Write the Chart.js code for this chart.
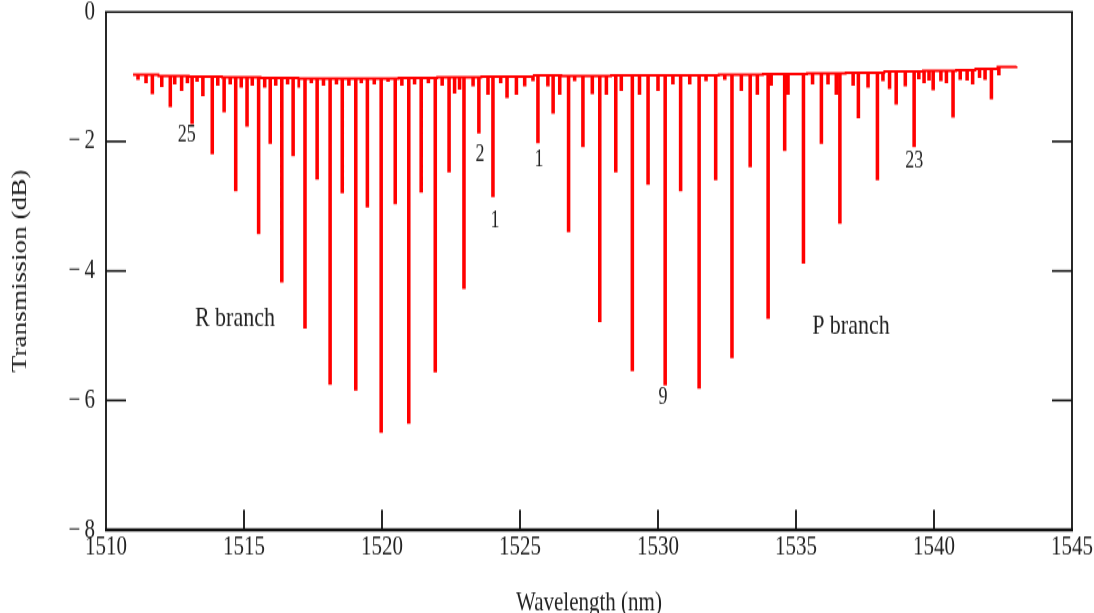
<!DOCTYPE html>
<html>

<head>
  <title>Transmission spectrum</title>
  <script src="https://cdn.jsdelivr.net/npm/chart.js"></script>
  <style>
    html {
      overflow: hidden;
    }
    body {
      margin: 0;
      padding: 0;
      height: 613px;
      background: #fff;
    }
    /* the plot is drawn short and stretched tall, like the printed figure */
    .chart-container {
      position: relative;
      width: 1094px;
      height: 480px;
      transform: scaleY(1.2987);
      transform-origin: 0 0;
    }
  </style>
</head>

<body>
  <div class="chart-container">
    <canvas id="myChart"></canvas>
  </div>
  <script>
    // axis ticks
    const xTicks = [1510, 1515, 1520, 1525, 1530, 1535, 1540, 1545];
    const yTicks = [0, -2, -4, -6, -8];

    // continuum level of the trace (nm, dB)
    const contNm = [1510.98, 1511.9, 1513.0, 1514.2, 1515.6, 1517.0, 1519.0, 1520.6, 1522.0, 1523.6, 1525.2, 1526.5,
      1528.3, 1530.4, 1532.2, 1533.8, 1535.4, 1536.8, 1538.2, 1539.6, 1540.8, 1541.5, 1542.3, 1542.99];
    const contDb = [-0.97, -0.99, -1.0, -1.01, -1.02, -1.03, -1.03, -1.02, -1.01, -1.0, -0.98, -0.99,
      -0.98, -0.98, -0.97, -0.96, -0.95, -0.94, -0.92, -0.91, -0.9, -0.88, -0.85, -0.84];

    // absorption lines: centre (nm) and bottom of the dip (dB)
    const dipNm = [
      1511.16, 1511.45, 1511.68, 1512.02, 1512.33, 1512.49, 1512.74, 1512.95, 1513.12, 1513.30, 1513.51, 1513.85,
      1514.05, 1514.28, 1514.50, 1514.70, 1514.90, 1515.11, 1515.30, 1515.53, 1515.75, 1515.95, 1516.15, 1516.37,
      1516.58, 1516.78, 1517.00, 1517.21, 1517.44, 1517.65, 1517.88, 1518.12, 1518.35, 1518.56, 1518.80, 1519.05,
      1519.25, 1519.47, 1519.72, 1519.97, 1520.22, 1520.48, 1520.72, 1520.97, 1521.18, 1521.42, 1521.68, 1521.93,
      1522.18, 1522.43, 1522.63, 1522.81, 1522.97, 1523.30, 1523.51, 1523.84, 1524.02, 1524.30, 1524.53, 1524.87,
      1525.17, 1525.47, 1525.65, 1526.01, 1526.20, 1526.44, 1526.76, 1526.98, 1527.28, 1527.62, 1527.89, 1528.13,
      1528.47, 1528.67, 1529.07, 1529.33, 1529.64, 1530.00, 1530.26, 1530.54, 1530.82, 1531.15, 1531.49, 1531.74,
      1532.09, 1532.42, 1532.68, 1533.02, 1533.34, 1533.60, 1533.99, 1534.10, 1534.59, 1534.71, 1535.27, 1535.60,
      1535.92, 1536.16, 1536.46, 1536.59, 1537.07, 1537.26, 1537.61, 1537.95, 1538.15, 1538.39, 1538.63, 1538.96,
      1539.28, 1539.45, 1539.64, 1539.82, 1539.97, 1540.25, 1540.45, 1540.69, 1540.95, 1541.20, 1541.40, 1541.65,
      1541.85, 1542.08, 1542.35
    ];
    const dipDb = [
      -1.03, -1.08, -1.25, -1.14, -1.45, -1.10, -1.20, -1.08, -1.71, -1.06, -1.28, -2.18,
      -1.12, -1.53, -1.10, -2.75, -1.15, -1.75, -1.12, -3.41, -1.15, -2.02, -1.12, -4.16,
      -1.10, -2.21, -1.15, -4.87, -1.08, -2.57, -1.12, -5.74, -1.10, -2.78, -1.12, -5.83,
      -1.08, -3.00, -1.10, -6.48, -1.06, -2.95, -1.12, -6.34, -1.10, -2.77, -1.08, -5.55,
      -1.12, -2.46, -1.24, -1.18, -4.26, -1.13, -1.86, -1.26, -2.84, -1.08, -1.31, -1.26,
      -1.13, -1.05, -2.01, -1.13, -1.55, -1.26, -3.38, -1.05, -2.07, -1.25, -4.77, -1.26,
      -2.46, -1.20, -5.53, -1.26, -2.65, -1.20, -5.75, -1.10, -2.75, -1.10, -5.80, -1.05,
      -2.58, -1.03, -5.33, -1.20, -2.38, -1.26, -4.72, -1.12, -2.13, -1.26, -3.87, -1.10,
      -2.02, -1.10, -1.26, -3.25, -1.12, -1.62, -1.15, -2.58, -1.05, -1.17, -1.41, -1.13,
      -2.07, -1.02, -1.08, -1.04, -1.19, -1.05, -1.08, -1.61, -1.03, -1.04, -1.10, -1.00,
      -1.03, -1.33, -0.96
    ];

    // line numbers and branch names written on the plot
    const lineNotes = [
      { text: '25', nm: 1512.93, db: -1.90 },
      { text: '2', nm: 1523.55, db: -2.21 },
      { text: '1', nm: 1524.09, db: -3.24 },
      { text: '1', nm: 1525.69, db: -2.29 },
      { text: '9', nm: 1530.18, db: -5.96 },
      { text: '23', nm: 1539.28, db: -2.30 }
    ];
    const branchNotes = [
      { text: 'R branch', nm: 1514.67, db: -4.73 },
      { text: 'P branch', nm: 1536.99, db: -4.86 }
    ];

    const SERIF = '"Liberation Serif", "Times New Roman", serif';
    const DIP_HALF = 0.03; // half width of a drawn dip, nm

    // continuum value in force at a wavelength (last knot at or before it)
    function contAt(nm) {
      let v = contDb[0];
      for (let i = 0; i < contNm.length; i++) {
        if (contNm[i] <= nm) v = contDb[i];
      }
      return v;
    }

    // stepped trace: every point holds its value from its x onwards
    function buildTrace() {
      const pts = contNm.map((nm, i) => ({ x: nm, y: contDb[i] }));
      dipNm.forEach((nm, i) => {
        pts.push({ x: nm - DIP_HALF, y: dipDb[i] });
        pts.push({ x: nm + DIP_HALF, y: contAt(nm) });
      });
      pts.sort((a, b) => a.x - b.x);
      return pts;
    }

    function stroke(ctx, x1, y1, x2, y2, w) {
      ctx.lineWidth = w;
      ctx.beginPath();
      ctx.moveTo(x1, y1);
      ctx.lineTo(x2, y2);
      ctx.stroke();
    }

    // closed frame, inward tick marks and the text on the plot
    const framePlugin = {
      id: 'frame',
      afterDraw(chart) {
        const { ctx, chartArea: a, scales: { x, y } } = chart;
        ctx.save();
        ctx.strokeStyle = '#111';
        ctx.lineCap = 'butt';
        stroke(ctx, a.left - 1, a.top, a.right + 1, a.top, 1.5);
        stroke(ctx, a.right, a.top, a.right, a.bottom, 1.8);
        stroke(ctx, a.left, a.top, a.left, a.bottom, 1.8);
        stroke(ctx, a.left - 1, a.bottom, a.right + 1, a.bottom, 2.4);
        xTicks.slice(1, -1).forEach(v => {
          const px = x.getPixelForValue(v);
          stroke(ctx, px, a.bottom, px, a.bottom - 15.4, 1.8);
        });
        yTicks.slice(1, -1).forEach(v => {
          const py = y.getPixelForValue(v);
          stroke(ctx, a.left, py, a.left + 20, py, 1.6);
          stroke(ctx, a.right, py, a.right - 20, py, 1.6);
        });

        ctx.fillStyle = '#222';
        ctx.textAlign = 'center';
        ctx.textBaseline = 'middle';
        ctx.font = '18px ' + SERIF;
        lineNotes.forEach(n => ctx.fillText(n.text, x.getPixelForValue(n.nm), y.getPixelForValue(n.db)));
        ctx.font = '22px ' + SERIF;
        branchNotes.forEach(n => ctx.fillText(n.text, x.getPixelForValue(n.nm), y.getPixelForValue(n.db)));
        ctx.restore();
      }
    };

    function drawChart() {
      new Chart(document.getElementById('myChart').getContext('2d'), {
        type: 'line',
        data: {
          datasets: [{
            data: buildTrace(),
            borderColor: '#ff0000',
            borderWidth: 1.9,
            pointRadius: 0,
            stepped: true,
            fill: false
          }]
        },
        options: {
          animation: false,
          responsive: true,
          maintainAspectRatio: false,
          layout: { padding: { top: 9.2, right: 22, bottom: 0, left: 0 } },
          plugins: { legend: { display: false }, tooltip: { enabled: false } },
          scales: {
            x: {
              type: 'linear',
              min: xTicks[0],
              max: xTicks[xTicks.length - 1],
              grid: { display: false, drawTicks: false },
              border: { display: false },
              ticks: {
                stepSize: 5,
                padding: 1,
                color: '#222',
                font: { family: SERIF, size: 21 },
                callback: v => String(v)
              },
              title: {
                display: true,
                text: 'Wavelength (nm)',
                color: '#222',
                font: { family: SERIF, size: 21 },
                padding: { top: 0, bottom: 3.4 }
              },
              afterFit(s) {
                s.height = 72;
                s.paddingLeft = 0;
                s.paddingRight = 0;
              }
            },
            y: {
              min: yTicks[yTicks.length - 1],
              max: yTicks[0],
              grid: { display: false, drawTicks: false },
              border: { display: false },
              ticks: {
                stepSize: 2,
                padding: 11,
                color: '#222',
                font: { family: SERIF, size: 21 },
                callback: v => (v === 0 ? '0' : '\u2212\u2009' + (-v))
              },
              title: {
                display: true,
                text: 'Transmission (dB)',
                color: '#222',
                font: { family: SERIF, size: 21 },
                padding: { top: 7.4, bottom: 0 }
              },
              afterFit(s) {
                s.width = 106;
                s.paddingTop = 0;
                s.paddingBottom = 0;
              }
            }
          }
        },
        plugins: [framePlugin]
      });
    }

    drawChart();
  </script>
</body>

</html>
